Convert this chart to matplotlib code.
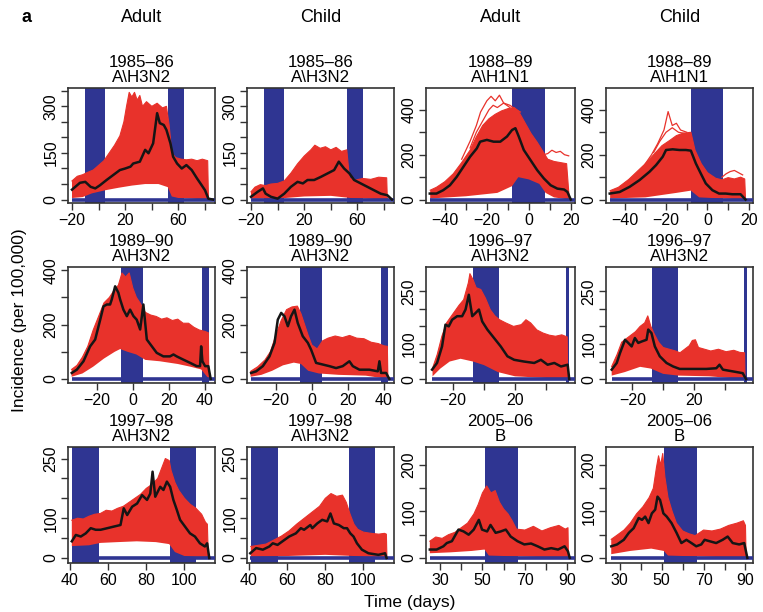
import numpy as np
import matplotlib
matplotlib.use('Agg')
import matplotlib.pyplot as plt

plt.rcParams['font.family'] = ['Liberation Sans', 'DejaVu Sans']

RED = '#e8322b'
BLUE = '#2f3592'

# ---------------- data ----------------
titles = ['1985\u201386\nA\\H3N2', '1985\u201386\nA\\H3N2', '1988\u201389\nA\\H1N1', '1988\u201389\nA\\H1N1',
          '1989\u201390\nA\\H3N2', '1989\u201390\nA\\H3N2', '1996\u201397\nA\\H3N2', '1996\u201397\nA\\H3N2',
          '1997\u201398\nA\\H3N2', '1997\u201398\nA\\H3N2', '2005\u201306\nB', '2005\u201306\nB']
col_headers = ['Adult', 'Child', 'Adult', 'Child']

# Panel 1: Adult 1985-86
p1_obs_x = [-20, -14, -10, -6, -2.5, 1, 6, 11, 16, 20, 24, 26, 31, 35, 37.5, 41, 44, 46, 49, 51, 54, 56, 59, 62.5, 66, 70, 74, 77.5, 80, 82.5, 86]
p1_obs_y = [32, 54, 57, 41, 36, 46, 63, 79, 95, 100, 106, 116, 122, 160, 149, 181, 278, 246, 240, 224, 181, 138, 116, 100, 111, 95, 68, 46, 30, 3, 0]
p1_hi_x = [-20, -16, -12, -8, -4, 0, 4, 8, 12, 16, 19, 21, 23, 25, 27, 29, 31, 33, 36, 40, 44, 48, 51, 53, 55, 58, 62, 66, 70, 74, 78, 82, 82.6]
p1_hi_y = [60, 75, 80, 88, 95, 110, 125, 150, 175, 205, 250, 300, 345, 330, 345, 320, 335, 300, 315, 300, 310, 295, 300, 240, 150, 135, 130, 128, 130, 125, 130, 125, 0]
p1_lo_x = [-20, -12, -5, 5, 15, 25, 35, 45, 52, 55, 60, 82.6]
p1_lo_y = [5, 8, 20, 30, 38, 45, 50, 50, 40, 10, 5, 0]

# Panel 2: Child 1985-86
p2_obs_x = [-20, -15, -11, -9, -5, 0, 5, 10, 15, 19, 22.5, 27.5, 32.5, 37.5, 42.5, 46, 50, 54, 57.5, 62.5, 67.5, 72.5, 77.5, 82.5, 86]
p2_obs_y = [9, 25, 36, 19, 9, 3, 19, 41, 57, 52, 63, 63, 73, 84, 95, 122, 100, 84, 63, 52, 41, 30, 19, 14, 0]
p2_hi_x = [-20, -17, -13, -9, -5, 0, 5, 10, 15, 20, 25, 28, 32, 36, 40, 44, 48, 52, 54, 58, 64, 70, 76, 82, 82.5]
p2_hi_y = [25, 40, 48, 45, 50, 52, 60, 85, 115, 140, 160, 175, 165, 170, 160, 168, 155, 160, 70, 62, 68, 65, 72, 70, 0]
p2_lo_x = [-20, 0, 20, 40, 55, 82.5]
p2_lo_y = [3, 3, 10, 12, 5, 0]

# Panel 3: Adult 1988-89
p3_obs_x = [-47.2, -44, -40.8, -37.6, -34.4, -31.2, -28, -24.8, -23.2, -20, -16.8, -13.6, -10.4, -8, -6.4, -4.8, -2.4, 0.8, 4, 7.2, 10.4, 13.6, 16.8, 18.4, 20]
p3_obs_y = [27, 27, 42, 64, 101, 146, 191, 228, 258, 266, 258, 258, 281, 310, 318, 281, 221, 176, 131, 94, 64, 49, 45, 34, 0]
p3_hi_x = [-47, -44, -40, -36, -32, -28, -25, -22, -19, -16, -13, -10, -7, -5, -2, 1, 4, 7, 9, 12, 15, 18, 19.3]
p3_hi_y = [42, 55, 80, 115, 165, 220, 280, 330, 360, 380, 395, 405, 410, 395, 345, 295, 255, 210, 180, 170, 165, 160, 0]
p3_lo_x = [-47, -30, -15, -8, -5, 0, 5, 8, 12, 19.3]
p3_lo_y = [5, 15, 30, 60, 100, 90, 70, 30, 10, 0]
p3_out1_x = [-32, -28, -25, -23, -20, -18, -16, -14, -12, -9, -6, -4]
p3_out1_y = [180, 260, 330, 390, 440, 460, 440, 465, 430, 420, 400, 390]
p3_out2_x = [-28, -25, -22, -19, -17, -15, -12, -9]
p3_out2_y = [230, 300, 350, 400, 420, 410, 430, 410]
p3_out3_x = [7, 9, 11, 13, 15, 17, 19]
p3_out3_y = [200, 205, 220, 210, 215, 200, 195]

# Panel 4: Child 1988-89
p4_obs_x = [-47.2, -42.4, -37.6, -32.8, -28, -24.8, -21.6, -20, -16.8, -13.6, -10.4, -8, -5.6, -3.2, -0.8, 2.4, 5.6, 8.8, 12, 16, 18.4]
p4_obs_y = [27, 34, 57, 87, 124, 154, 191, 221, 224, 221, 221, 218, 161, 116, 72, 42, 27, 27, 24, 24, 0]
p4_hi_x = [-47, -43, -38, -34, -30, -26, -22, -18, -15, -12, -8, -6, -3, 0, 4, 7, 10, 13, 16, 18, 18.4]
p4_hi_y = [40, 55, 90, 125, 160, 200, 240, 265, 285, 295, 300, 220, 160, 120, 95, 88, 98, 92, 100, 92, 0]
p4_lo_x = [-47, -30, -15, -8, -4, 18.4]
p4_lo_y = [5, 10, 30, 40, 10, 0]
p4_out1_x = [-30, -27, -24, -21, -19, -17, -15, -13, -10]
p4_out1_y = [160, 200, 250, 310, 392, 330, 340, 310, 300]
p4_out2_x = [-26, -23, -20, -17, -14, -11]
p4_out2_y = [210, 260, 300, 320, 300, 295]
p4_out3_x = [7, 9, 11, 13, 15, 17]
p4_out3_y = [100, 115, 125, 130, 120, 110]

# Panel 5: Adult 1989-90
p5_obs_x = [-33.9, -31.1, -27.4, -23.7, -20.9, -18.1, -16.3, -14.4, -12.6, -11.7, -9.8, -8, -7, -5.2, -3.3, -1.5, 0.4, 2.2, 4.1, 5.9, 7.8, 10.6, 13.3, 17, 20.7, 22.6, 24.4, 28.1, 31.9, 35.6, 37.4, 38, 38.7, 40.2, 42, 43.3]
p5_obs_y = [22, 34, 65, 120, 145, 218, 267, 274, 274, 292, 341, 317, 292, 255, 231, 255, 231, 218, 182, 274, 145, 120, 96, 83, 83, 90, 83, 71, 59, 47, 47, 120, 65, 47, 47, 0]
p5_hi_x = [-34, -31, -28, -25, -22, -19, -16, -13, -10, -8, -6, -4, -2, 0, 2, 4, 7, 10, 13, 16, 19, 22, 25, 28, 31, 34, 37, 40, 42, 42.3]
p5_hi_y = [35, 50, 80, 120, 180, 230, 280, 300, 330, 345, 390, 375, 390, 335, 300, 280, 245, 235, 230, 220, 225, 215, 220, 205, 205, 190, 180, 175, 170, 0]
p5_lo_x = [-34, -28, -22, -16, -10, -7, -3, 2, 7, 15, 25, 32, 38, 42.3]
p5_lo_y = [8, 20, 45, 75, 100, 110, 100, 90, 70, 65, 55, 45, 35, 0]

# Panel 6: Child 1989-90
p6_obs_x = [-33.7, -30.9, -27.2, -23.5, -20.7, -18.9, -17, -15.2, -13.3, -11.5, -9.6, -7.8, -5, -2.2, -0.4, 2.4, 6.1, 9.8, 13.5, 17.2, 20.9, 22.8, 26.5, 32, 36.7, 37.6, 38.5, 41.3, 43.1]
p6_obs_y = [22, 28, 47, 83, 133, 218, 243, 231, 194, 231, 255, 206, 157, 133, 108, 59, 53, 47, 40, 47, 65, 47, 34, 34, 28, 65, 22, 22, 0]
p6_hi_x = [-34, -30, -26, -23, -20, -17, -14, -11, -8, -6, -4, -2, 0, 3, 6, 9, 13, 17, 21, 25, 29, 33, 37, 40, 42, 42.3]
p6_hi_y = [28, 45, 70, 100, 160, 215, 255, 265, 268, 240, 200, 160, 125, 110, 140, 150, 158, 152, 160, 150, 148, 135, 130, 122, 120, 0]
p6_lo_x = [-34, -28, -22, -16, -10, -6, -2, 4, 15, 30, 42.3]
p6_lo_y = [8, 15, 30, 50, 60, 55, 30, 20, 15, 12, 0]

# Panel 7: Adult 1996-97
p7_obs_x = [-33.3, -30.1, -26.9, -24.7, -22.6, -20.4, -17.2, -14, -11.8, -9.7, -7.5, -5.4, -3.2, -1.1, 2.2, 6.5, 10.8, 15.1, 19.4, 25.8, 32.3, 36.6, 40.9, 45.2, 49.5, 53.8, 54.8]
p7_obs_y = [27, 46, 93, 155, 150, 169, 179, 179, 198, 240, 179, 188, 198, 164, 141, 117, 93, 65, 55, 50, 46, 55, 41, 46, 36, 41, 0]
p7_hi_x = [-33, -30, -27, -24, -20, -16, -13, -10, -9, -7, -5, -2, 1, 4, 7, 10, 14, 19, 24, 27, 30, 34, 38, 42, 46, 50, 53.5, 53.8]
p7_hi_y = [31, 70, 122, 160, 185, 210, 226, 274, 300, 283, 260, 255, 230, 198, 180, 169, 160, 150, 155, 169, 160, 140, 131, 125, 122, 126, 120, 0]
p7_lo_x = [-33, -28, -22, -15, -7, 0, 9, 20, 53.8]
p7_lo_y = [8, 30, 50, 58, 50, 40, 20, 8, 0]

# Panel 8: Child 1996-97
p8_obs_x = [-33.5, -30.2, -28.1, -24.8, -22.7, -20.5, -18.4, -16.2, -14, -10.8, -9.7, -7.6, -5.4, -2.2, 2.2, 6.5, 10.8, 19.4, 28.1, 34.6, 36.7, 38.9, 45.4, 51.8, 54]
p8_obs_y = [27, 46, 74, 112, 103, 93, 117, 103, 107, 112, 141, 131, 93, 65, 46, 36, 29, 29, 29, 31, 41, 27, 22, 17, 0]
p8_hi_x = [-33.5, -30, -27, -24, -21, -18, -15, -12, -10, -8, -6, -3, 0, 4, 8, 11, 14, 17, 19, 21, 23, 27, 31, 36, 41, 46, 50, 53, 53.3]
p8_hi_y = [36, 70, 105, 115, 125, 135, 150, 160, 180, 150, 130, 105, 90, 85, 80, 75, 85, 95, 110, 112, 90, 85, 80, 85, 78, 82, 76, 75, 0]
p8_lo_x = [-33.5, -25, -15, -8, 0, 10, 30, 53.3]
p8_lo_y = [10, 20, 35, 30, 15, 10, 8, 0]

# Panel 9: Adult 1997-98
p9_obs_x = [41, 43.1, 45.7, 48.3, 50.9, 53.5, 56.1, 59.6, 63, 66.5, 68.2, 70, 72.6, 75.2, 77.8, 80.4, 82.1, 83.3, 84.7, 87.3, 89, 90.8, 92.5, 94.2, 96, 97.7, 100.3, 102.9, 105.5, 108.1, 110.7, 111.9, 113]
p9_obs_y = [42, 58, 54, 62, 75, 71, 71, 75, 79, 83, 125, 108, 129, 137, 158, 146, 162, 217, 154, 179, 171, 192, 179, 146, 121, 96, 79, 62, 54, 37, 29, 37, 0]
p9_hi_x = [41, 44, 47, 50, 53, 56, 59, 62, 65, 68, 71, 74, 77, 80, 83, 86, 88, 90, 92, 93, 95, 97, 100, 103, 106, 109, 111, 112, 112.5]
p9_hi_y = [95, 100, 98, 105, 110, 112, 120, 118, 125, 130, 140, 150, 160, 175, 185, 200, 225, 250, 245, 220, 190, 170, 150, 135, 125, 110, 90, 85, 0]
p9_lo_x = [41, 50, 56, 65, 75, 85, 92, 95, 100, 112.5]
p9_lo_y = [30, 32, 38, 40, 42, 40, 35, 15, 5, 0]

# Panel 10: Child 1997-98
p10_obs_x = [40.7, 43.8, 47.3, 50.7, 52.5, 55, 57.6, 61.1, 64.6, 67.2, 68.9, 72.2, 73.2, 75.8, 78.4, 81, 82.7, 84.5, 87.1, 89.7, 91.4, 93.1, 94.8, 96.6, 99.2, 102.6, 107.8, 111.3, 112.1]
p10_obs_y = [12, 25, 21, 29, 37, 33, 42, 54, 62, 75, 71, 83, 75, 87, 96, 92, 112, 87, 83, 75, 75, 62, 54, 37, 21, 12, 8, 12, 0]
p10_hi_x = [41, 45, 49, 53, 57, 61, 65, 69, 73, 77, 80, 83, 86, 89, 91, 93, 95, 97, 100, 104, 108, 111, 112, 112.3]
p10_hi_y = [29, 32, 35, 45, 55, 68, 85, 100, 115, 130, 150, 162, 155, 158, 140, 110, 85, 72, 65, 62, 60, 62, 60, 0]
p10_lo_x = [41, 60, 80, 95, 112.3]
p10_lo_y = [3, 5, 8, 5, 0]

# Panel 11: Adult 2005-06
p11_obs_x = [25.2, 28.4, 31.6, 33.2, 35.6, 38.7, 41.1, 43.5, 45.9, 48.3, 49.8, 52.2, 53.8, 56.2, 58.6, 61, 63.3, 66.5, 69.7, 72.9, 76, 79.2, 82.4, 85.6, 88.7, 90.3, 91.1]
p11_obs_y = [18, 18, 25, 32, 36, 61, 57, 50, 61, 82, 61, 57, 71, 54, 57, 61, 46, 36, 29, 31, 25, 18, 21, 18, 25, 14, 0]
p11_hi_x = [25.2, 28, 31, 34, 37, 40, 43, 46, 48, 50, 52, 54, 56, 58, 60, 62, 64, 66, 70, 74, 78, 82, 86, 89, 90.3, 90.5]
p11_hi_y = [36, 45, 42, 50, 55, 65, 75, 95, 115, 140, 155, 140, 145, 120, 105, 95, 80, 62, 60, 68, 58, 65, 70, 62, 65, 0]
p11_lo_x = [25.2, 35, 45, 51, 53, 90.5]
p11_lo_y = [10, 12, 15, 18, 5, 0]

# Panel 12: Child 2005-06
p12_obs_x = [25.9, 28.7, 31.9, 34.3, 36.6, 39, 40.6, 42.1, 43.7, 45.3, 46.9, 48, 49.2, 50.8, 52.4, 54.7, 57.1, 59.4, 61.8, 64.2, 66.5, 68.9, 70.5, 72.8, 76, 79.1, 81.5, 83.9, 87, 89.4, 90.9]
p12_obs_y = [25, 29, 39, 54, 64, 86, 82, 89, 75, 96, 104, 132, 125, 96, 89, 75, 54, 32, 39, 32, 25, 29, 39, 36, 32, 39, 46, 32, 29, 32, 0]
p12_hi_x = [25.9, 29, 32, 35, 38, 41, 44, 46, 47.5, 48.5, 49.5, 50.5, 51.5, 53, 55, 57, 60, 63, 66, 70, 74, 78, 82, 86, 89, 90, 90.3]
p12_hi_y = [40, 50, 60, 75, 95, 110, 130, 150, 195, 220, 200, 225, 175, 130, 100, 75, 58, 52, 48, 60, 58, 62, 70, 75, 80, 70, 0]
p12_lo_x = [25.9, 35, 45, 51, 53, 90.3]
p12_lo_y = [8, 15, 20, 15, 5, 0]

# shaded bands (days)
bands_85 = [(-10, 4.5), (52.5, 64)]
bands_88 = [(-7.8, 7.5)]
bands_89 = [(-6.7, 5.8), (38.6, 42.4)]
bands_96 = [(-7.3, 9.5), (52.9, 54.8)]
bands_97 = [(41, 55.2), (92.2, 106)]
bands_05 = [(51.1, 66.8)]

# axis limits and ticks
xlim_85, ylim_85 = (-23, 87.5), (-11, 359)
xlim_88, ylim_88 = (-49, 22), (-15, 497)
xlim_89, ylim_89 = (-36, 45.7), (-15, 412)
xlim_96, ylim_96 = (-37.2, 58.5), (-11, 319)
xlim_97, ylim_97 = (39, 116), (-12.5, 279)
xlim_05, ylim_05 = (23.4, 93.6), (-11, 239)

xt_85 = [-20, 0, 20, 40, 60, 80];  xl_85 = ['\u221220', '', '20', '', '60', '']
yt_85 = [0, 50, 100, 150, 200, 250, 300, 350]; yl_85 = ['0', '', '', '150', '', '', '300', '']
xt_88 = [-40, -30, -20, -10, 0, 10, 20]; xl_88 = ['\u221240', '', '\u221220', '', '0', '', '20']
yt_88 = [0, 100, 200, 300, 400]; yl_88 = ['0', '', '200', '', '400']
xt_89 = [-20, 0, 20, 40]; xl_89 = ['\u221220', '0', '20', '40']
yt_89 = [0, 100, 200, 300, 400]; yl_89 = ['0', '', '200', '', '400']
xt_96 = [-20, 0, 20, 40]; xl_96 = ['\u221220', '', '20', '']
yt_96 = [0, 50, 100, 150, 200, 250]; yl_96 = ['0', '', '100', '', '', '250']
xt_97 = [40, 60, 80, 100]; xl_97 = ['40', '60', '80', '100']
yt_97 = [0, 50, 100, 150, 200, 250]; yl_97 = ['0', '', '100', '', '', '250']
xt_05 = [30, 40, 50, 60, 70, 80, 90]; xl_05 = ['30', '', '50', '', '70', '', '90']
yt_05 = [0, 50, 100, 150, 200]; yl_05 = ['0', '', '100', '', '200']

# ---------------- layout ----------------
W, H = 763, 612
col_px = [(68, 215), (247, 394), (426, 575), (606, 753)]
row_px = [(88, 203), (267, 383), (447, 563)]

fig = plt.figure(figsize=(W / 100, H / 100), dpi=100)

panels = [
    (p1_obs_x, p1_obs_y, p1_hi_x, p1_hi_y, p1_lo_x, p1_lo_y, [], bands_85, xlim_85, ylim_85, xt_85, xl_85, yt_85, yl_85),
    (p2_obs_x, p2_obs_y, p2_hi_x, p2_hi_y, p2_lo_x, p2_lo_y, [], bands_85, xlim_85, ylim_85, xt_85, xl_85, yt_85, yl_85),
    (p3_obs_x, p3_obs_y, p3_hi_x, p3_hi_y, p3_lo_x, p3_lo_y,
     [(p3_out1_x, p3_out1_y), (p3_out2_x, p3_out2_y), (p3_out3_x, p3_out3_y)], bands_88, xlim_88, ylim_88, xt_88, xl_88, yt_88, yl_88),
    (p4_obs_x, p4_obs_y, p4_hi_x, p4_hi_y, p4_lo_x, p4_lo_y,
     [(p4_out1_x, p4_out1_y), (p4_out2_x, p4_out2_y), (p4_out3_x, p4_out3_y)], bands_88, xlim_88, ylim_88, xt_88, xl_88, yt_88, yl_88),
    (p5_obs_x, p5_obs_y, p5_hi_x, p5_hi_y, p5_lo_x, p5_lo_y, [], bands_89, xlim_89, ylim_89, xt_89, xl_89, yt_89, yl_89),
    (p6_obs_x, p6_obs_y, p6_hi_x, p6_hi_y, p6_lo_x, p6_lo_y, [], bands_89, xlim_89, ylim_89, xt_89, xl_89, yt_89, yl_89),
    (p7_obs_x, p7_obs_y, p7_hi_x, p7_hi_y, p7_lo_x, p7_lo_y, [], bands_96, xlim_96, ylim_96, xt_96, xl_96, yt_96, yl_96),
    (p8_obs_x, p8_obs_y, p8_hi_x, p8_hi_y, p8_lo_x, p8_lo_y, [], bands_96, xlim_96, ylim_96, xt_96, xl_96, yt_96, yl_96),
    (p9_obs_x, p9_obs_y, p9_hi_x, p9_hi_y, p9_lo_x, p9_lo_y, [], bands_97, xlim_97, ylim_97, xt_97, xl_97, yt_97, yl_97),
    (p10_obs_x, p10_obs_y, p10_hi_x, p10_hi_y, p10_lo_x, p10_lo_y, [], bands_97, xlim_97, ylim_97, xt_97, xl_97, yt_97, yl_97),
    (p11_obs_x, p11_obs_y, p11_hi_x, p11_hi_y, p11_lo_x, p11_lo_y, [], bands_05, xlim_05, ylim_05, xt_05, xl_05, yt_05, yl_05),
    (p12_obs_x, p12_obs_y, p12_hi_x, p12_hi_y, p12_lo_x, p12_lo_y, [], bands_05, xlim_05, ylim_05, xt_05, xl_05, yt_05, yl_05),
]

FS = 11.5
for i, (ox, oy, hx, hy, lx, ly, outs, bands, xlim, ylim, xt, xl, yt, yl) in enumerate(panels):
    r, c = divmod(i, 4)
    x0, x1 = col_px[c]
    y0, y1 = row_px[r]
    ax = fig.add_axes([x0 / W, 1 - y1 / H, (x1 - x0) / W, (y1 - y0) / H])
    ax.set_xlim(*xlim)
    ax.set_ylim(*ylim)
    for b0, b1 in bands:
        ax.axvspan(b0, b1, color=BLUE, lw=0, zorder=1)
    poly_x = np.concatenate([hx, lx[::-1]])
    poly_y = np.concatenate([hy, ly[::-1]])
    ax.fill(poly_x, poly_y, color=RED, lw=0, zorder=2)
    ax.plot(hx, hy, color=RED, lw=0.8, zorder=2)
    for (qx, qy) in outs:
        ax.plot(qx, qy, color=RED, lw=0.9, zorder=2)
    ax.plot([ox[0], xlim[1]], [0, 0], color=BLUE, lw=2.6, solid_capstyle='butt', zorder=3)
    ax.plot(ox, oy, color='#151515', lw=1.8, zorder=4)
    ax.set_xticks(xt)
    ax.set_xticklabels(xl, fontsize=FS)
    ax.set_yticks(yt)
    ax.set_yticklabels(yl, fontsize=FS, rotation=90, va='center')
    ax.tick_params(direction='out', length=5, width=1, color='#333333', pad=2)
    for s in ax.spines.values():
        s.set_linewidth(1.2)
        s.set_color('#333333')
    ax.set_title(titles[i], fontsize=12.2, linespacing=1.0, pad=4)

for c, name in enumerate(col_headers):
    xc = (col_px[c][0] + col_px[c][1]) / 2
    fig.text(xc / W, 1 - 18 / H, name, ha='center', va='center', fontsize=13)

fig.text(27 / W, 1 - 18 / H, 'a', ha='center', va='center', fontsize=13, fontweight='bold')
fig.text(20 / W, 1 - 320 / H, 'Incidence (per 100,000)', rotation=90, ha='center', va='center', fontsize=12.5)
fig.text(410 / W, 1 - 602 / H, 'Time (days)', ha='center', va='center', fontsize=12.5)

fig.savefig('out.png', dpi=100)
